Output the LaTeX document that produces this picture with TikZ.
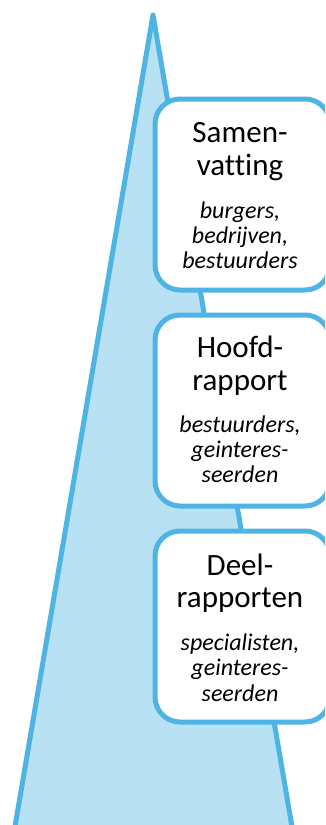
\documentclass[tikz,border=0pt]{standalone}
\usepackage{fontspec}
\setmainfont[Ligatures=NoCommon]{Carlito}
\definecolor{edgeblue}{RGB}{78,180,228}
\definecolor{fillblue}{RGB}{184,225,244}
\begin{document}
\begin{tikzpicture}[x=1pt,y=-1pt,
  tri/.style={draw=edgeblue,fill=fillblue,line width=5pt,line join=round},
  panel/.style={draw=edgeblue,fill=white,line width=5pt,rounded corners=25pt,minimum width=175pt,minimum height=191pt,inner sep=0pt},
  ttl/.style={anchor=base,font=\fontsize{31}{33}\selectfont,inner sep=0pt},
  sub/.style={anchor=base,font=\fontsize{24}{25}\selectfont\itshape,inner sep=0pt}]
\useasboundingbox (0,0) rectangle (325,825);
\clip (0,0) rectangle (325,825);
\draw[tri] (153,15) -- (296,850) -- (11,850) -- cycle;
% box 1
\node[panel] (b1) at (242.5,194.5) {};
\node[ttl] (b1a) at (240,142) {Samen-};
\node[ttl] (b1b) at (240,175) {vatting};
\node[sub] (b1c) at (240,218) {burgers,};
\node[sub] (b1d) at (240,243) {bedrijven,};
\node[sub] (b1e) at (240,268) {bestuurders};
% box 2
\node[panel] (b2) at (242.5,410.5) {};
\node[ttl] (b2a) at (240,357) {Hoofd-};
\node[ttl] (b2b) at (240,390) {rapport};
\node[sub] (b2c) at (240,432) {bestuurders,};
\node[sub] (b2d) at (240,457) {geinteres-};
\node[sub] (b2e) at (240,482) {seerden};
% box 3
\node[panel] (b3) at (242.5,626.5) {};
\node[ttl] (b3a) at (240,575) {Deel-};
\node[ttl] (b3b) at (240,607) {rapporten};
\node[sub] (b3c) at (240,650) {specialisten,};
\node[sub] (b3d) at (240,675) {geinteres-};
\node[sub] (b3e) at (240,701) {seerden};
\end{tikzpicture}
\end{document}
